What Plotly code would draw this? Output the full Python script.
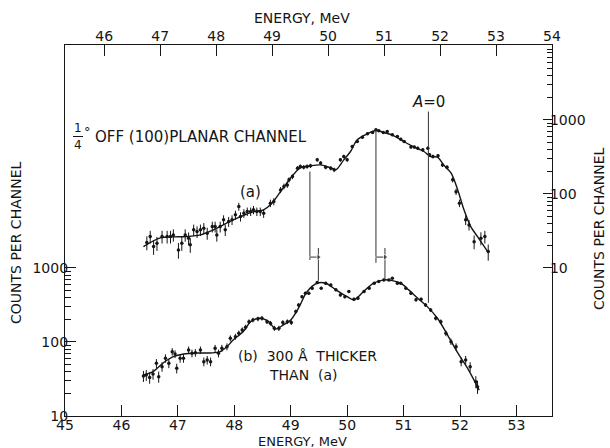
import numpy as np
import plotly.graph_objects as go

# ---------------- data ----------------
# curve (a): 1/4 deg off (100) planar channel -- right-hand axis
a_energy = [46.45, 46.51, 46.57, 46.63, 46.72, 46.81, 46.87, 46.92, 47.01, 47.07, 47.13, 47.19,
            47.22, 47.28, 47.34, 47.40, 47.46, 47.52, 47.61, 47.66, 47.69, 47.75, 47.81, 47.84,
            47.90, 47.96, 48.02, 48.08, 48.11, 48.17, 48.23, 48.29, 48.34, 48.40, 48.46, 48.52,
            48.64, 48.70, 48.82, 48.88, 48.94, 48.97, 49.03, 49.12, 49.17, 49.23, 49.29, 49.35,
            49.47, 49.53, 49.62, 49.71, 49.77, 49.88, 49.94, 50.00, 50.09, 50.18, 50.27, 50.36,
            50.45, 50.51, 50.56, 50.64, 50.71, 50.80, 50.89, 50.95, 51.01, 51.13, 51.19, 51.25,
            51.34, 51.43, 51.46, 51.52, 51.61, 51.69, 51.77, 51.87, 51.93, 51.99, 52.10, 52.16,
            52.25, 52.37, 52.44, 52.50]
a_counts = [22.0, 26.5, 19.4, 21.6, 26.5, 26.5, 26.5, 27.9, 17.5, 21.6, 27.9, 25.1,
            20.5, 32.7, 30.9, 32.7, 34.4, 29.4, 36.1, 36.1, 27.9, 36.1, 44.6, 32.7,
            42.3, 44.6, 52.0, 67.5, 49.3, 54.8, 57.7, 57.7, 60.8, 57.7, 57.7, 54.8,
            74.8, 78.7, 113, 126, 132, 155, 171, 222, 234, 229, 234, 239,
            288, 260, 229, 222, 211, 288, 319, 288, 437, 509, 583, 647,
            673, 733, 710, 673, 695, 627, 594, 548, 509, 428, 428, 414,
            393, 414, 336, 319, 327, 246, 229, 155, 107, 74.8, 44.6, 38.1,
            22.6, 25.2, 26.5, 16.6]
a_fit_energy = [46.39, 46.69, 46.92, 47.16, 47.40, 47.63, 47.87, 48.11, 48.34, 48.52, 48.64, 48.82,
                49.00, 49.17, 49.35, 49.53, 49.71, 49.80, 49.94, 50.06, 50.18, 50.36, 50.51, 50.65,
                50.83, 51.00, 51.18, 51.36, 51.48, 51.60, 51.71, 51.84, 51.96, 52.07, 52.19, 52.31,
                52.49]
a_fit_counts = [19.4, 25.4, 26.2, 26.5, 27.9, 32.7, 40.5, 49.3, 57.1, 60.8, 71.0, 107,
                164, 224, 239, 246, 224, 211, 288, 373, 537, 647, 717, 673,
                608, 509, 432, 373, 319, 313, 246, 192, 113, 60.8, 36.1, 26.5,
                16.6]

# curve (b): 300 A thicker than (a) -- left-hand axis
b_energy = [46.39, 46.44, 46.50, 46.56, 46.62, 46.66, 46.72, 46.78, 46.84, 46.90, 46.95, 46.98,
            47.04, 47.10, 47.19, 47.25, 47.31, 47.40, 47.46, 47.52, 47.58, 47.66, 47.72, 47.78,
            47.87, 47.93, 48.02, 48.08, 48.14, 48.20, 48.26, 48.33, 48.42, 48.49, 48.58, 48.64,
            48.71, 48.79, 48.86, 48.94, 49.01, 49.09, 49.14, 49.20, 49.26, 49.32, 49.38, 49.47,
            49.54, 49.62, 49.71, 49.80, 49.88, 49.96, 50.03, 50.12, 50.19, 50.30, 50.39, 50.48,
            50.56, 50.65, 50.74, 50.80, 50.89, 50.95, 51.04, 51.13, 51.22, 51.31, 51.39, 51.48,
            51.57, 51.66, 51.75, 51.84, 51.93, 52.02, 52.10, 52.18, 52.28, 52.31]
b_counts = [34.7, 35.8, 33.0, 37.0, 51.5, 34.0, 46.4, 60.2, 51.5, 73.9, 68.8, 44.2,
            60.2, 60.2, 78.0, 70.3, 71.7, 78.0, 54.2, 57.1, 54.2, 82.2, 70.3, 82.2,
            86.3, 112, 118, 131, 145, 158, 188, 198, 205, 209, 188, 179,
            153, 153, 183, 188, 183, 257, 316, 409, 455, 455, 531, 634,
            531, 621, 589, 505, 432, 409, 479, 378, 389, 479, 531, 621,
            653, 689, 689, 726, 621, 621, 531, 455, 370, 378, 316, 270,
            209, 188, 131, 101, 86.3, 54.2, 57.1, 46.4, 29.1, 24.9]
b_fit_energy = [46.39, 46.56, 46.74, 46.92, 47.10, 47.34, 47.58, 47.75, 47.87, 47.98, 48.16, 48.29,
                48.46, 48.61, 48.73, 48.87, 49.00, 49.14, 49.29, 49.47, 49.62, 49.80, 50.00, 50.12,
                50.29, 50.47, 50.65, 50.80, 50.95, 51.09, 51.25, 51.42, 51.60, 51.78, 51.96, 52.13,
                52.34]
b_fit_counts = [35.8, 39.7, 52.0, 63.2, 68.8, 71.0, 71.0, 73.9, 86.3, 106, 138, 188,
                209, 188, 150, 170, 198, 288, 479, 621, 621, 505, 409, 370,
                479, 621, 689, 673, 621, 505, 390, 300, 209, 124, 71.0, 44.6,
                22.4]

# peak-shift markers (right-axis units)
shift_from_energy = [49.34, 50.51]
shift_to_energy = [49.49, 50.67]
shift_top_a = [200, 733]
shift_bottom_a = [12.8, 11.7]
shift_top_b = [18.6, 18.6]
shift_bottom_b = [6.7, 6.9]
arrow_level = [14.0, 14.0]
a0_energy = 51.44
a0_top = 1294
a0_bottom = 3.37

bottom_ticks = [45, 46, 47, 48, 49, 50, 51, 52, 53]
top_ticks = [46, 47, 48, 49, 50, 51, 52, 53, 54]
y_major = [10, 100, 1000]
y_left_minor = [20, 30, 40, 50, 60, 70, 80, 90, 200, 300, 400, 500, 600, 700, 800, 900]
y_right_minor = y_left_minor + [2000, 3000, 4000, 5000, 6000, 7000, 8000, 9000]

INK = '#151515'
FONT = 'DejaVu Sans'

fig = go.Figure()

# fitted curves
fig.add_trace(go.Scatter(x=a_fit_energy, y=a_fit_counts, mode='lines', xaxis='x', yaxis='y2',
                         line=dict(color=INK, width=1.4, shape='spline', smoothing=0.9),
                         hoverinfo='skip'))
fig.add_trace(go.Scatter(x=b_fit_energy, y=b_fit_counts, mode='lines', xaxis='x', yaxis='y',
                         line=dict(color=INK, width=1.4, shape='spline', smoothing=0.9),
                         hoverinfo='skip'))

# data points with Poisson error bars
fig.add_trace(go.Scatter(x=a_energy, y=a_counts, mode='markers', xaxis='x', yaxis='y2',
                         marker=dict(color=INK, size=3.5),
                         error_y=dict(type='data', array=np.sqrt(a_counts), color=INK,
                                      thickness=1, width=0)))
fig.add_trace(go.Scatter(x=b_energy, y=b_counts, mode='markers', xaxis='x', yaxis='y',
                         marker=dict(color=INK, size=3.5),
                         error_y=dict(type='data', array=np.sqrt(b_counts), color=INK,
                                      thickness=1, width=0)))

# vertical marker lines and shift arrows
for i in range(len(shift_from_energy)):
    fig.add_trace(go.Scatter(x=[shift_from_energy[i]] * 2, y=[shift_top_a[i], shift_bottom_a[i]],
                             mode='lines', xaxis='x', yaxis='y2',
                             line=dict(color='#333', width=1), hoverinfo='skip'))
    fig.add_trace(go.Scatter(x=[shift_to_energy[i]] * 2, y=[shift_top_b[i], shift_bottom_b[i]],
                             mode='lines', xaxis='x', yaxis='y2',
                             line=dict(color='#333', width=1), hoverinfo='skip'))
    fig.add_trace(go.Scatter(x=[shift_from_energy[i], shift_to_energy[i]],
                             y=[arrow_level[i], arrow_level[i]],
                             mode='lines+markers', xaxis='x', yaxis='y2',
                             line=dict(color='#333', width=1),
                             marker=dict(symbol=['line-ns', 'triangle-right'], size=[1, 6],
                                         color='#333'),
                             hoverinfo='skip'))
fig.add_trace(go.Scatter(x=[a0_energy, a0_energy], y=[a0_top, a0_bottom], mode='lines',
                         xaxis='x', yaxis='y2', line=dict(color='#333', width=1), hoverinfo='skip'))

# invisible trace to anchor the top energy axis
fig.add_trace(go.Scatter(x=[50], y=[100], xaxis='x2', yaxis='y', mode='markers',
                         marker=dict(opacity=0), hoverinfo='skip'))

axis_common = dict(showgrid=False, zeroline=False, showline=True, linecolor=INK, linewidth=1.3,
                   ticks='inside', tickcolor=INK, tickwidth=1.1,
                   tickfont=dict(family=FONT, size=14, color=INK))

fig.update_layout(
    width=610, height=448,
    margin=dict(l=65, r=58, t=45, b=32),
    paper_bgcolor='white', plot_bgcolor='white',
    showlegend=False,
    font=dict(family=FONT, size=14, color=INK),
    xaxis=dict(range=[45, 53.63], tickmode='array', tickvals=bottom_ticks, ticklen=11,
               side='bottom', ticklabelstandoff=-4, **axis_common),
    xaxis2=dict(range=[45.30, 54.0], tickmode='array', tickvals=top_ticks, ticklen=11,
                overlaying='x', side='top', ticklabelstandoff=-3, **axis_common),
    yaxis=dict(type='log', range=[1, 6.01], tickmode='array', tickvals=y_major,
               ticktext=[str(v) for v in y_major], ticklen=11, ticklabelstandoff=-7,
               minor=dict(tickmode='array', tickvals=y_left_minor, ticks='inside', ticklen=6,
                          tickcolor=INK, tickwidth=1, showgrid=False),
               **axis_common),
    yaxis2=dict(type='log', range=[-1, 4.01], tickmode='array', tickvals=y_major,
                ticktext=[str(v) for v in y_major], ticklen=9, ticklabelstandoff=-6,
                overlaying='y', side='right',
                minor=dict(tickmode='array', tickvals=y_right_minor, ticks='inside', ticklen=5,
                           tickcolor=INK, tickwidth=1, showgrid=False),
                **axis_common),
)

def px(x):
    return (x - 65) / 487.0

def py(y):
    return (416 - y) / 371.0

texts = [
    dict(text='OFF (100)PLANAR CHANNEL', x=px(93), y=py(137), xanchor='left', size=15),
    dict(text='1', x=px(78), y=py(128), xanchor='center', size=12),
    dict(text='4', x=px(78), y=py(145), xanchor='center', size=12),
    dict(text='°', x=px(87), y=py(131), xanchor='center', size=13),
    dict(text='(a)', x=px(250), y=py(192), xanchor='center', size=15),
    dict(text='<i>A</i>=0', x=px(428), y=py(102), xanchor='center', size=15),
    dict(text='(b)  300 Å  THICKER', x=px(236), y=py(356), xanchor='left', size=14),
    dict(text='THAN  (a)', x=px(267), y=py(375), xanchor='left', size=14),
    dict(text='ENERGY, MeV', x=px(302), y=py(441.5), xanchor='center', size=13),
    dict(text='ENERGY, MeV', x=px(302), y=py(18), xanchor='center', size=14),
]
for t in texts:
    fig.add_annotation(text=t['text'], x=t['x'], y=t['y'], xref='paper', yref='paper',
                       xanchor=t['xanchor'], yanchor='middle', showarrow=False,
                       font=dict(family=FONT, size=t.get('size', 14), color=INK))

fig.add_annotation(text='COUNTS PER CHANNEL', x=px(16), y=py(243), xref='paper', yref='paper',
                   textangle=-90, showarrow=False, xanchor='center', yanchor='middle',
                   font=dict(family=FONT, size=14, color=INK))
fig.add_annotation(text='COUNTS PER CHANNEL', x=px(599), y=py(229), xref='paper', yref='paper',
                   textangle=-90, showarrow=False, xanchor='center', yanchor='middle',
                   font=dict(family=FONT, size=14, color=INK))

# fraction bar of the 1/4
fig.add_shape(type='line', xref='paper', yref='paper', x0=px(73), x1=px(83), y0=py(136.5),
              y1=py(136.5), line=dict(color=INK, width=1))

fig.write_html('out.html', config={'displayModeBar': False},
               post_script="document.body.style.margin='0';")
